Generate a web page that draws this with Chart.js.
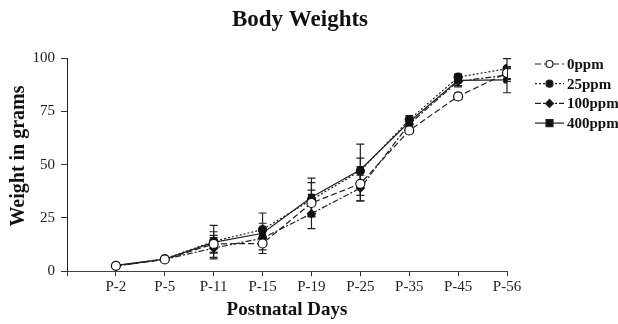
<!DOCTYPE html>
<html>
<head>
<meta charset="utf-8">
<script src="https://cdn.jsdelivr.net/npm/chart.js@4"></script>
<style>
  html, body { margin: 0; padding: 0; background: #fff; }
  #wrap { width: 618px; height: 324px; }
</style>
</head>
<body>
<div id="wrap"><canvas id="chart"></canvas></div>
<script>
// Body weights by postnatal day, per dose group
const days = ['', 'P-2', 'P-5', 'P-11', 'P-15', 'P-19', 'P-25', 'P-35', 'P-45', 'P-56'];

const w0   = [2.5, 5.5, 12.8, 13.0, 32.0, 41.0, 66.0, 82.0, 93.0];
const w25  = [2.6, 5.8, 14.0, 19.5, 33.5, 47.0, 71.0, 91.0, 95.0];
const w100 = [2.4, 5.6, 10.8, 15.5, 27.0, 39.0, 69.0, 89.0, 92.0];
const w400 = [2.7, 5.7, 13.5, 17.8, 34.7, 47.6, 70.0, 89.5, 89.7];

// +/- error bars
const e0   = [0.5, 0.5, 4.0, 3.0, 6.0, 8.0, 1.5, 1.5, 3.0];
const e25  = [0.5, 0.5, 7.5, 3.0, 8.0, 6.0, 2.0, 1.5, 4.7];
const e100 = [0.5, 0.5, 5.0, 3.0, 7.0, 6.0, 2.0, 2.0, 3.0];
const e400 = [0.5, 0.5, 5.0, 9.5, 9.0, 12.0, 2.0, 3.0, 6.0];

const yTicks = [0, 25, 50, 75, 100];

const serif = "'Liberation Serif', 'DejaVu Serif', serif";

function pts(arr) {
    return arr.map((v, i) => ({ x: i + 1, y: v }));
}

const groups = [
    { label: '0ppm',   data: w0,   err: e0,   dash: [6, 3],       style: 'circle',  fill: '#fff', r: 4.5 },
    { label: '25ppm',  data: w25,  err: e25,  dash: [2, 2],       style: 'circle',  fill: '#111', r: 4 },
    { label: '100ppm', data: w100, err: e100, dash: [6, 2, 2, 2], style: 'rectRot', fill: '#111', r: 4 },
    { label: '400ppm', data: w400, err: e400, dash: [],           style: 'rect',    fill: '#111', r: 4 }
];

// error bars under the markers
const errorBars = {
    id: 'errorBars',
    beforeDatasetsDraw(chart) {
        const ctx = chart.ctx;
        const xs = chart.scales.x, ys = chart.scales.y;
        ctx.save();
        ctx.strokeStyle = '#222';
        ctx.lineWidth = 1.2;
        groups.forEach(g => {
            g.data.forEach((v, i) => {
                const px = xs.getPixelForValue(i + 1);
                const top = ys.getPixelForValue(v + g.err[i]);
                const bot = ys.getPixelForValue(v - g.err[i]);
                ctx.beginPath();
                ctx.moveTo(px, top); ctx.lineTo(px, bot);
                ctx.moveTo(px - 4, top); ctx.lineTo(px + 4, top);
                ctx.moveTo(px - 4, bot); ctx.lineTo(px + 4, bot);
                ctx.stroke();
            });
        });
        ctx.restore();
    }
};

// title, y-axis title and legend (line sample + marker) drawn by hand
const decorations = {
    id: 'decorations',
    afterDraw(chart) {
        const ctx = chart.ctx;
        ctx.save();
        ctx.fillStyle = '#111';
        ctx.font = 'bold 23px ' + serif;
        ctx.textAlign = 'center';
        ctx.textBaseline = 'middle';
        ctx.fillText('Body Weights', 300, 20);

        ctx.save();
        ctx.translate(19, 156);
        ctx.rotate(-Math.PI / 2);
        ctx.font = 'bold 20px ' + serif;
        ctx.fillText('Weight in grams', 0, 0);
        ctx.restore();

        const x0 = 535, x1 = 564;
        ctx.textAlign = 'left';
        groups.forEach((g, k) => {
            const y = 64 + k * 19.7;
            ctx.strokeStyle = '#222';
            ctx.lineWidth = 1.2;
            ctx.setLineDash(g.dash);
            ctx.beginPath();
            ctx.moveTo(x0, y); ctx.lineTo(x1, y);
            ctx.stroke();
            ctx.setLineDash([]);
            ctx.fillStyle = g.fill;
            const cx = (x0 + x1) / 2;
            ctx.beginPath();
            if (g.style === 'circle') {
                ctx.arc(cx, y, 3.5, 0, Math.PI * 2);
            } else if (g.style === 'rect') {
                ctx.rect(cx - 3.5, y - 3.5, 7, 7);
            } else {
                ctx.moveTo(cx, y - 4); ctx.lineTo(cx + 4, y); ctx.lineTo(cx, y + 4); ctx.lineTo(cx - 4, y);
                ctx.closePath();
            }
            ctx.fill();
            ctx.stroke();
            ctx.fillStyle = '#111';
            ctx.font = 'bold 15px ' + serif;
            ctx.textBaseline = 'middle';
            ctx.fillText(g.label, 567, y + 1);
        });
        ctx.restore();
    }
};

new Chart(document.getElementById('chart'), {
    type: 'line',
    data: {
        datasets: groups.map(g => ({
            label: g.label,
            data: pts(g.data),
            borderColor: '#222',
            borderWidth: 1.2,
            borderDash: g.dash,
            pointStyle: g.style,
            pointRadius: g.r,
            pointBackgroundColor: g.fill,
            pointBorderColor: '#111',
            pointBorderWidth: 1.2,
            fill: false,
            tension: 0
        }))
    },
    options: {
        responsive: true,
        maintainAspectRatio: false,
        animation: false,
        layout: { padding: { left: 26.5, right: 111, top: 58, bottom: 3 } },
        plugins: {
            legend: { display: false },
            tooltip: { enabled: false },
            title: { display: false }
        },
        scales: {
            x: {
                type: 'linear',
                min: 0,
                max: 9,
                border: { color: '#444', dash: [1, 1], width: 1 },
                grid: { display: true, drawOnChartArea: false, tickLength: 5, color: '#333' },
                ticks: {
                    stepSize: 1,
                    color: '#222',
                    font: { family: serif, size: 15 },
                    padding: 2,
                    autoSkip: false,
                    maxRotation: 0,
                    callback: v => days[v] || ''
                },
                title: {
                    display: true,
                    text: 'Postnatal Days',
                    color: '#111',
                    font: { family: serif, size: 19, weight: 'bold' },
                    padding: { top: 0, bottom: 0 }
                }
            },
            y: {
                min: 0,
                max: 100,
                border: { color: '#222', width: 1 },
                grid: { display: true, drawOnChartArea: false, tickLength: 6, color: '#333' },
                afterBuildTicks: s => { s.ticks = yTicks.map(v => ({ value: v })); },
                ticks: {
                    color: '#222',
                    font: { family: serif, size: 15 },
                    padding: 6
                }
            }
        }
    },
    plugins: [errorBars, decorations]
});
</script>
</body>
</html>
